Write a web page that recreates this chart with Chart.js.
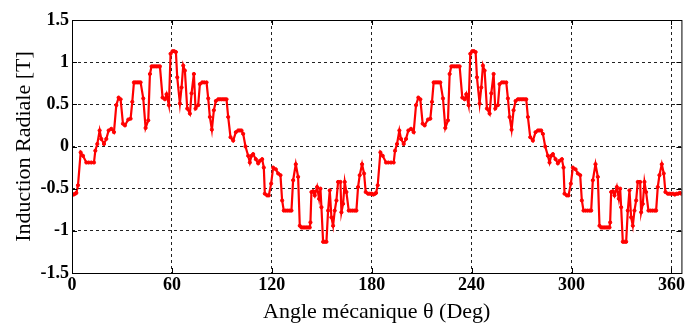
<!DOCTYPE html>
<html>
<head>
<meta charset="utf-8">
<script src="https://cdn.jsdelivr.net/npm/chart.js@4/dist/chart.umd.min.js"></script>
<style>
  html, body { margin: 0; padding: 0; background: #fff; }
  #wrap { width: 687px; height: 325px; position: relative; }
</style>
</head>
<body>
<div id="wrap"><canvas id="c"></canvas></div>
<script>
// Mechanical angle (deg) and radial flux density (T), first pole pair
const anglesFirstPole = [0,1,2,2.6,3.6,5.2,6.6,8.6,10,11.6,13.2,14,15.2,16.6,17.6,19.2,20.6,22,23.6,25.2,26.6,28,29.2,30.6,31.8,33.8,35.2,36.2,37.2,38.2,39.2,40.2,41.2,42.8,44.2,45.8,46.8,47.8,48.8,49.8,50.8,51.8,52.8,54.4,55.8,56.8,58.2,59.2,60.4,61.4,62.4,63.2,64.8,65.8,66.8,67.8,69.2,70.8,71.8,73.2,74.2,75.8,76.8,78.2,79.4,80.8,81.8,82.8,84,85.2,86.4,87.8,88.8,89.8,90.8,91.8,92.8,93.8,95.2,96.8,98.4,99.8,100.8,101.8,102.8,104.2,105.8,106.8,107.8,108.8,110.4,111.8,112.8,114.2,115.2,115.8,117.2,118.2,119.6,120.8,122.4,123.8,125.2,126.2,127.2,128.4,129.6,130.8,131.8,132.8,134.4,135.8,136.8,137.8,138.8,139.8,140.8,141.8,142.8,143.2,143.8,144.8,145.8,147.2,148.4,149.2,149.8,150.8,151.8,152.8,153.8,154.8,155.8,156.8,157.8,158.8,159.8,161.2,161.8,162.8,163.8,164.8,166.2,167.4,168.6,169.8,170.8,171.8,172.8,174.2,175.4,176.4,177.8,178.8,179.8];
const bFirstPole = [-0.56,-0.57,-0.56,-0.55,-0.46,-0.07,-0.11,-0.19,-0.19,-0.19,-0.19,-0.05,0.03,0.19,0.09,0.03,0.09,0.19,0.21,0.17,0.49,0.58,0.56,0.27,0.25,0.32,0.33,0.53,0.76,0.76,0.76,0.76,0.76,0.57,0.22,0.31,0.86,0.95,0.95,0.95,0.95,0.95,0.95,0.58,0.56,0.62,0.49,1.10,1.13,1.13,1.12,0.82,0.51,0.70,0.96,0.90,0.45,0.39,0.63,0.86,0.45,0.49,0.74,0.76,0.76,0.76,0.57,0.35,0.20,0.43,0.54,0.56,0.56,0.56,0.56,0.56,0.56,0.35,0.11,0.07,0.17,0.19,0.19,0.19,0.15,0.00,-0.11,-0.19,-0.11,-0.09,-0.15,-0.20,-0.17,-0.15,-0.25,-0.56,-0.58,-0.58,-0.44,-0.25,-0.27,-0.32,-0.34,-0.64,-0.76,-0.76,-0.76,-0.76,-0.76,-0.40,-0.21,-0.36,-0.94,-0.96,-0.96,-0.96,-0.96,-0.96,-0.96,-0.90,-0.54,-0.53,-0.58,-0.48,-0.62,-0.50,-0.72,-1.13,-1.13,-1.13,-0.76,-0.52,-0.84,-0.94,-0.76,-0.64,-0.42,-0.42,-0.78,-0.68,-0.42,-0.54,-0.76,-0.76,-0.76,-0.76,-0.76,-0.48,-0.34,-0.21,-0.32,-0.54,-0.56,-0.56,-0.56];

// Second pole pair
const anglesSecondPole = [180,181,182,182.6,183.6,185.2,186.6,188.6,190,191.6,193.2,194,195.2,196.6,197.6,199.2,200.6,202,203.6,205.2,206.6,208,209.2,210.6,211.8,213.8,215.2,216.2,217.2,218.2,219.2,220.2,221.2,222.8,224.2,225.8,226.8,227.8,228.8,229.8,230.8,231.8,232.8,234.4,235.8,236.8,238.2,239.2,240.4,241.4,242.4,243.2,244.8,245.8,246.8,247.8,249.2,250.8,251.8,253.2,254.2,255.8,256.8,258.2,259.4,260.8,261.8,262.8,264,265.2,266.4,267.8,268.8,269.8,270.8,271.8,272.8,273.8,275.2,276.8,278.4,279.8,280.8,281.8,282.8,284.2,285.8,286.8,287.8,288.8,290.4,291.8,292.8,294.2,295.2,295.8,297.2,298.2,299.6,300.8,302.4,303.8,305.2,306.2,307.2,308.4,309.6,310.8,311.8,312.8,314.4,315.8,316.8,317.8,318.8,319.8,320.8,321.8,322.8,323.2,323.8,324.8,325.8,327.2,328.4,329.2,329.8,330.8,331.8,332.8,333.8,334.8,335.8,336.8,337.8,338.8,339.8,341.2,341.8,342.8,343.8,344.8,346.2,347.4,348.6,349.8,350.8,351.8,352.8,354.2,355.4,356.4,357.8,358.8,359.8,361,362,363,364,365,366];
const bSecondPole = [-0.56,-0.57,-0.56,-0.55,-0.46,-0.07,-0.11,-0.19,-0.19,-0.19,-0.19,-0.05,0.03,0.19,0.09,0.03,0.09,0.19,0.21,0.17,0.49,0.58,0.56,0.27,0.25,0.32,0.33,0.53,0.76,0.76,0.76,0.76,0.76,0.57,0.22,0.31,0.86,0.95,0.95,0.95,0.95,0.95,0.95,0.58,0.56,0.62,0.49,1.10,1.13,1.13,1.12,0.82,0.51,0.70,0.96,0.90,0.45,0.39,0.63,0.86,0.45,0.49,0.74,0.76,0.76,0.76,0.57,0.35,0.20,0.43,0.54,0.56,0.56,0.56,0.56,0.56,0.56,0.35,0.11,0.07,0.17,0.19,0.19,0.19,0.15,0.00,-0.11,-0.19,-0.11,-0.09,-0.15,-0.20,-0.17,-0.15,-0.25,-0.56,-0.58,-0.58,-0.44,-0.25,-0.27,-0.32,-0.34,-0.64,-0.76,-0.76,-0.76,-0.76,-0.76,-0.40,-0.21,-0.36,-0.94,-0.96,-0.96,-0.96,-0.96,-0.96,-0.96,-0.90,-0.54,-0.53,-0.58,-0.48,-0.62,-0.50,-0.72,-1.13,-1.13,-1.13,-0.76,-0.52,-0.84,-0.94,-0.76,-0.64,-0.42,-0.42,-0.78,-0.68,-0.42,-0.54,-0.76,-0.76,-0.76,-0.76,-0.76,-0.48,-0.34,-0.21,-0.32,-0.54,-0.56,-0.56,-0.56,-0.56,-0.57,-0.56,-0.56,-0.55,-0.56];

const xTicks = [0, 60, 120, 180, 240, 300, 360];
const yTicks = [-1.5, -1, -0.5, 0, 0.5, 1, 1.5];

const angles = anglesFirstPole.concat(anglesSecondPole);
const induction = bFirstPole.concat(bSecondPole);
const points = angles.map((a, i) => ({ x: a, y: induction[i] }));

// Solid frame around the plot area with inward tick marks
const framePlugin = {
  id: 'frame',
  afterDraw(chart) {
    const { ctx, chartArea: a, scales } = chart;
    ctx.save();
    ctx.strokeStyle = '#000';
    ctx.lineWidth = 1;
    ctx.setLineDash([]);
    ctx.strokeRect(a.left + 0.5, a.top + 0.5, a.right - a.left, a.bottom - a.top);
    const t = 5;
    ctx.beginPath();
    xTicks.forEach(v => {
      const px = Math.round(scales.x.getPixelForValue(v)) + 0.5;
      ctx.moveTo(px, a.bottom); ctx.lineTo(px, a.bottom - t);
      ctx.moveTo(px, a.top); ctx.lineTo(px, a.top + t);
    });
    yTicks.forEach(v => {
      const py = Math.round(scales.y.getPixelForValue(v)) + 0.5;
      ctx.moveTo(a.left, py); ctx.lineTo(a.left + t, py);
      ctx.moveTo(a.right, py); ctx.lineTo(a.right - t, py);
    });
    ctx.stroke();
    ctx.restore();
  }
};

const tickFont = { family: '"Liberation Serif", "Times New Roman", serif', size: 18, weight: 'bold' };
const titleFont = { family: '"Liberation Serif", "Times New Roman", serif', size: 22, weight: 'normal' };

new Chart(document.getElementById('c'), {
  type: 'line',
  data: {
    datasets: [{
      data: points,
      borderColor: '#ff0000',
      backgroundColor: '#ff0000',
      borderWidth: 2.2,
      pointRadius: 1.6,
      pointHoverRadius: 1.6,
      pointBorderWidth: 1,
      pointStyle: 'circle',
      tension: 0,
      fill: false
    }]
  },
  options: {
    responsive: true,
    maintainAspectRatio: false,
    animation: false,
    devicePixelRatio: 1,
    layout: { padding: { top: 20, right: 4, left: 11, bottom: 0 } },
    plugins: { legend: { display: false }, tooltip: { enabled: false } },
    scales: {
      x: {
        type: 'linear',
        min: 0, max: 366,
        afterBuildTicks(scale) { scale.ticks = xTicks.map(v => ({ value: v })); },
        afterFit(scale) { scale.height = 52; },
        ticks: { font: tickFont, color: '#000', padding: 2, maxRotation: 0, autoSkip: false },
        grid: { color: '#222', lineWidth: 1, drawTicks: false },
        border: { display: false, dash: [3, 3] },
        title: { display: true, text: 'Angle mécanique θ (Deg)', font: titleFont, color: '#000', padding: { top: 0, bottom: 0 } }
      },
      y: {
        type: 'linear',
        min: -1.5, max: 1.5,
        afterBuildTicks(scale) { scale.ticks = yTicks.map(v => ({ value: v })); },
        afterFit(scale) { scale.width = 61; },
        ticks: { font: tickFont, color: '#000', padding: 3, autoSkip: false, callback: v => String(v) },
        grid: { color: '#222', lineWidth: 1, drawTicks: false },
        border: { display: false, dash: [3, 3] },
        title: { display: true, text: 'Induction Radiale [T]', font: titleFont, color: '#000', padding: { top: 0, bottom: 0 } }
      }
    }
  },
  plugins: [framePlugin]
});
</script>
</body>
</html>
